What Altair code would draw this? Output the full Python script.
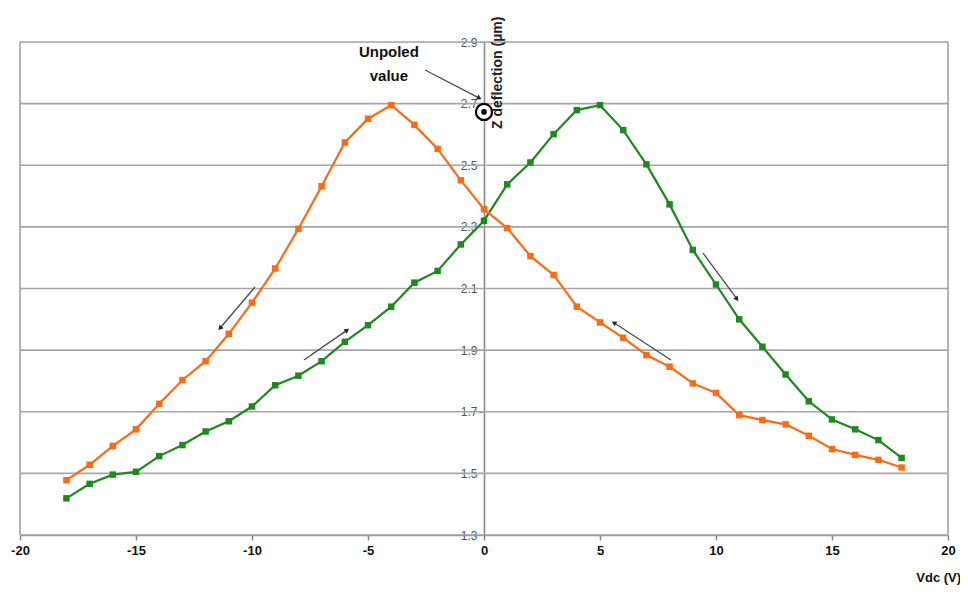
import math
import altair as alt
import pandas as pd

# ---- data ----
volts = list(range(-18, 19))
orange_vals = [1.478, 1.528, 1.589, 1.643, 1.726, 1.803, 1.864, 1.953, 2.054, 2.165,
               2.294, 2.432, 2.574, 2.651, 2.695, 2.631, 2.553, 2.451, 2.357, 2.296,
               2.205, 2.144, 2.041, 1.990, 1.940, 1.884, 1.846, 1.792, 1.761, 1.689,
               1.673, 1.659, 1.622, 1.579, 1.560, 1.544, 1.519]
green_vals = [1.419, 1.466, 1.496, 1.505, 1.556, 1.592, 1.636, 1.669, 1.717, 1.786,
              1.817, 1.864, 1.927, 1.981, 2.041, 2.119, 2.157, 2.243, 2.320, 2.438,
              2.509, 2.601, 2.679, 2.695, 2.614, 2.503, 2.373, 2.225, 2.113, 2.000,
              1.911, 1.821, 1.734, 1.675, 1.643, 1.608, 1.550]
y_ticks = [1.3, 1.5, 1.7, 1.9, 2.1, 2.3, 2.5, 2.7, 2.9]
x_ticks = [-20, -15, -10, -5, 0, 5, 10, 15, 20]
unpoled_x = [0.0]
unpoled_y = [2.673]
# arrows: start (x, y) -> end (x2, y2)
arrow_x = [-9.87, -7.76, 9.44, 8.06, -2.54]
arrow_y = [2.105, 1.868, 2.215, 1.868, 2.809]
arrow_x2 = [-11.38, -5.9, 10.9, 5.60, -0.2]
arrow_y2 = [1.971, 1.965, 2.066, 1.989, 2.718]

W, H = 928, 493
XD = [-20, 20]
YD = [1.3, 2.9]
xs = alt.Scale(domain=XD, nice=False)
ys = alt.Scale(domain=YD, nice=False, zero=False)

GRID = "#a6a6a6"
ORANGE = "#ff6a13"
GREEN = "#1e8a1e"

df_o = pd.DataFrame({"v": volts, "z": orange_vals})
df_g = pd.DataFrame({"v": volts, "z": green_vals})

grid_df = pd.DataFrame({"y": y_ticks, "x0": XD[0], "x1": XD[1]})
grid = alt.Chart(grid_df).mark_rule(color=GRID, strokeWidth=1.6).encode(
    x=alt.X("x0:Q", scale=xs), x2="x1:Q", y=alt.Y("y:Q", scale=ys))

frame_df = pd.DataFrame({"x": XD, "y0": YD[0], "y1": YD[1]})
frame = alt.Chart(frame_df).mark_rule(color=GRID, strokeWidth=1.6).encode(
    x=alt.X("x:Q", scale=xs), y=alt.Y("y0:Q", scale=ys), y2="y1:Q")

def series(df, color):
    base = alt.Chart(df).encode(
        x=alt.X("v:Q", scale=xs,
                axis=alt.Axis(values=x_ticks, title=None, grid=False, domainColor="#8a8a8a",
                              domainWidth=1.6, tickColor="#8a8a8a", tickSize=5, tickWidth=1.5,
                              labelFont="Liberation Sans", labelFontSize=13, labelFontWeight="bold",
                              labelColor="#111", labelPadding=4, labelFlush=False,
                              labelExpr="'' + datum.value")),
        y=alt.Y("z:Q", scale=ys,
                axis=alt.Axis(values=y_ticks, format=".1f", title=None, grid=False, offset=-464,
                              domainColor="#8a8a8a", domainWidth=1.6, tickColor="#8a8a8a",
                              tickSize=5, labelFont="Liberation Sans", labelFontSize=12,
                              labelColor="#555", labelPadding=2)))
    line = base.mark_line(color=color, strokeWidth=2.2)
    pts = base.mark_point(shape="square", filled=True, color=color, size=42, opacity=1)
    return line + pts

green_layer = series(df_g, GREEN)
orange_layer = series(df_o, ORANGE)

# arrows
def pix_angle(dx, dy):
    px = dx * W / (XD[1] - XD[0])
    py = -dy * H / (YD[1] - YD[0])
    return math.degrees(math.atan2(px, -py)) % 360

arr_df = pd.DataFrame({"x": arrow_x, "y": arrow_y, "x2": arrow_x2, "y2": arrow_y2})
arr_df["ang"] = [pix_angle(b - a, d - c) for a, b, c, d in zip(arrow_x, arrow_x2, arrow_y, arrow_y2)]
arrow_lines = alt.Chart(arr_df).mark_rule(color="#4a4a4a", strokeWidth=1.3).encode(
    x=alt.X("x:Q", scale=xs), y=alt.Y("y:Q", scale=ys), x2="x2:Q", y2="y2:Q")
arrow_heads = alt.Chart(arr_df).mark_point(shape="triangle-up", filled=True, color="#222",
                                           size=30, opacity=1).encode(
    x=alt.X("x2:Q", scale=xs), y=alt.Y("y2:Q", scale=ys), angle=alt.Angle("ang:Q", scale=None))

# unpoled marker
up_df = pd.DataFrame({"x": unpoled_x, "y": unpoled_y})
ring = alt.Chart(up_df).mark_point(shape="circle", filled=True, fill="white", stroke="black",
                                   strokeWidth=2.2, size=260, opacity=1).encode(
    x=alt.X("x:Q", scale=xs), y=alt.Y("y:Q", scale=ys))
dot = alt.Chart(up_df).mark_point(shape="circle", filled=True, color="black", size=32,
                                  opacity=1).encode(
    x=alt.X("x:Q", scale=xs), y=alt.Y("y:Q", scale=ys))

# texts
lab_df = pd.DataFrame({"x": [-4.1, -4.1], "y": [2.866, 2.79], "t": ["Unpoled", "value"]})
labels = alt.Chart(lab_df).mark_text(font="Liberation Sans", fontSize=15, fontWeight="bold",
                                     color="#111", align="center", baseline="middle").encode(
    x=alt.X("x:Q", scale=xs), y=alt.Y("y:Q", scale=ys), text="t:N")

ytitle_df = pd.DataFrame({"x": [0.6], "y": [2.8], "t": ["Z deflection (µm)"]})
ytitle = alt.Chart(ytitle_df).mark_text(font="Liberation Sans", fontSize=14, fontWeight="bold",
                                        color="#222", angle=270, align="center",
                                        baseline="middle").encode(
    x=alt.X("x:Q", scale=xs), y=alt.Y("y:Q", scale=ys), text="t:N")

xtitle_df = pd.DataFrame({"x": [19.6], "y": [1.16], "t": ["Vdc (V)"]})
xtitle = alt.Chart(xtitle_df).mark_text(font="Liberation Sans", fontSize=13, fontWeight="bold",
                                        color="#111", align="center", baseline="middle").encode(
    x=alt.X("x:Q", scale=xs), y=alt.Y("y:Q", scale=ys), text="t:N")

chart = alt.layer(grid, frame, green_layer, orange_layer, arrow_lines, arrow_heads,
                  ring, dot, labels, ytitle, xtitle).properties(
    width=W, height=H,
    autosize=alt.AutoSizeParams(type="none"),
    padding={"left": 12, "top": 34, "right": 12, "bottom": 50},
).configure_view(stroke=None).configure(background="white")

chart.save("out.html", embed_options={"renderer": "svg", "actions": False})
